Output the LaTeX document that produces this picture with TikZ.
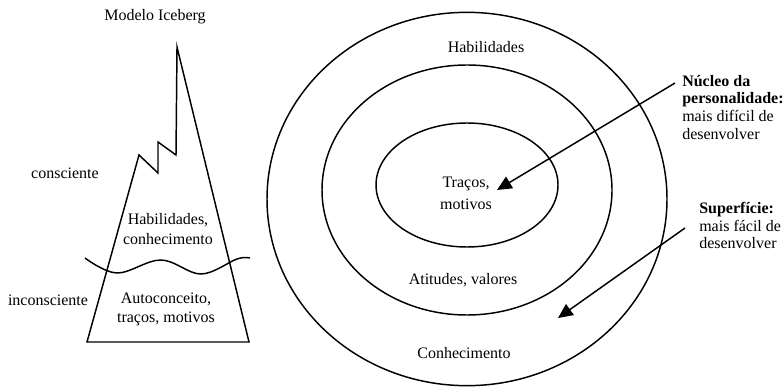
\documentclass[tikz,border=0pt]{standalone}
\usepackage{fontspec}
\setmainfont{Liberation Serif}
\usetikzlibrary{arrows.meta}

\begin{document}
\begin{tikzpicture}[
    x=0.75pt, y=-0.75pt,
    rotulo/.style={font=\fontsize{12}{14.3}\selectfont, inner sep=0pt, align=center},
    nota/.style={font=\fontsize{12}{13.2}\selectfont, inner sep=0pt, align=left, anchor=north west},
    linha/.style={line width=1.1pt, line join=miter},
    seta/.style={-{Triangle[length=11pt, width=10pt]}, line width=1.1pt}
]
    \useasboundingbox (0,0) rectangle (784,388);

    % Iceberg
    \node[rotulo] (titulo) at (155,17) {Modelo Iceberg};
    \draw[linha] (87,342) -- (139,155) -- (158,173) -- (158,142) -- (176,155)
        -- (177,47) -- (249,342) -- cycle;
    \draw[linha] plot[smooth, tension=0.6] coordinates
        {(85,258) (117,273) (161,260) (201,274) (237,259) (250,258)};
    \node[rotulo] (consciente) at (65,173) {consciente};
    \node[rotulo] (inconsciente) at (48,300) {inconsciente};
    \node[rotulo] (visivel) at (168,229) {Habilidades,\\conhecimento};
    \node[rotulo] (oculto) at (166,309) {Autoconceito,\\traços, motivos};

    % Camadas
    \draw[linha] (467,199) ellipse [x radius=150pt, y radius=140pt];
    \draw[linha] (467,190) ellipse [x radius=108.75pt, y radius=93.75pt];
    \draw[linha] (467,185) ellipse [x radius=68.25pt, y radius=46.5pt];
    \node[rotulo] (habilidades) at (486,47) {Habilidades};
    \node[rotulo] (tracos) at (466,193) {Traços,\\[2pt]motivos};
    \node[rotulo] (atitudes) at (463,280) {Atitudes, valores};
    \node[rotulo] (conhecimento) at (464,353) {Conhecimento};

    % Notas
    \node[nota] (nucleo) at (682,75) {\textbf{Núcleo da}\\\textbf{personalidade:}\\mais difícil de\\desenvolver};
    \node[nota] (superficie) at (699,202) {\textbf{Superfície:}\\mais fácil de\\desenvolver};
    \coordinate (nucleoCauda) at (675,83);
    \coordinate (nucleoPonta) at (497,190);
    \coordinate (superficieCauda) at (685,228);
    \coordinate (superficiePonta) at (558,318);
    \draw[seta] (nucleoCauda) -- (nucleoPonta);
    \draw[seta] (superficieCauda) -- (superficiePonta);
\end{tikzpicture}
\end{document}
